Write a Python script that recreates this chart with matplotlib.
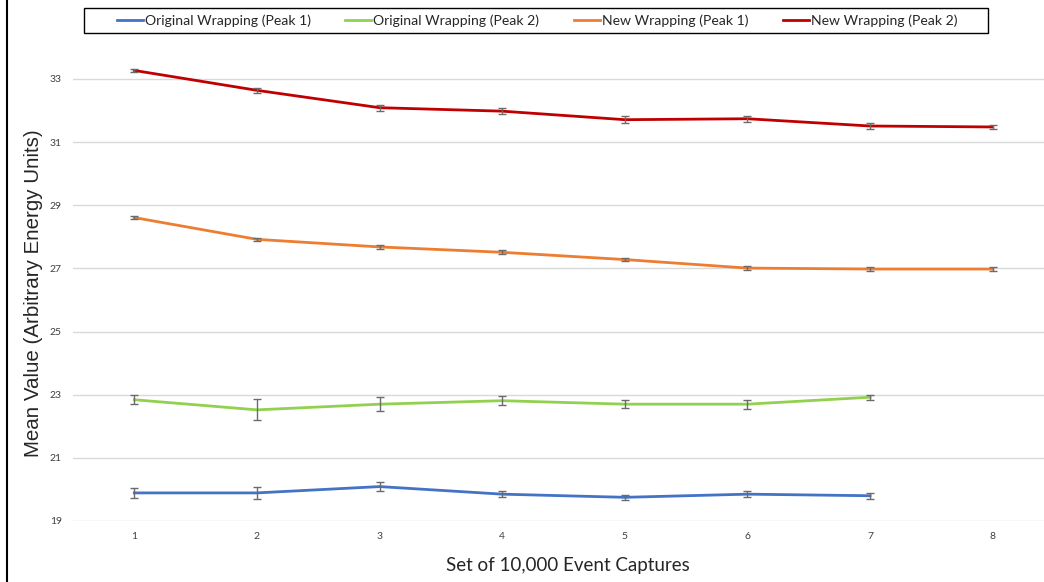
import matplotlib
matplotlib.use("Agg")
import matplotlib.pyplot as plt
from matplotlib.lines import Line2D
from matplotlib.patches import Rectangle

sets = [1, 2, 3, 4, 5, 6, 7, 8]
tick_labels = ["1", "2", "3", "4", "5", "6", "7", "8"]

orig_p1 = [19.89, 19.89, 20.09, 19.85, 19.75, 19.85, 19.80]
orig_p1_err = [0.16, 0.18, 0.15, 0.09, 0.08, 0.095, 0.095]
orig_p2 = [22.84, 22.52, 22.70, 22.81, 22.70, 22.70, 22.92]
orig_p2_err = [0.14, 0.33, 0.22, 0.15, 0.12, 0.14, 0.085]
new_p1 = [28.61, 27.92, 27.68, 27.51, 27.28, 27.01, 26.98, 26.98]
new_p1_err = [0.06, 0.05, 0.05, 0.06, 0.05, 0.07, 0.06, 0.06]
new_p2 = [33.27, 32.64, 32.09, 31.98, 31.71, 31.74, 31.51, 31.48]
new_p2_err = [0.06, 0.08, 0.09, 0.10, 0.12, 0.10, 0.08, 0.07]

labels = ["Original Wrapping (Peak 1)", "Original Wrapping (Peak 2)",
          "New Wrapping (Peak 1)", "New Wrapping (Peak 2)"]
colors = ["#4472C4", "#92D050", "#ED7D31", "#C00000"]

W, H = 1044, 582
fig = plt.figure(figsize=(W / 100, H / 100), dpi=100)
ax = fig.add_axes([73 / W, (H - 521) / H, 981 / W, (521 - 31.6) / H])

series = [(orig_p1, orig_p1_err), (orig_p2, orig_p2_err),
          (new_p1, new_p1_err), (new_p2, new_p2_err)]
for (vals, errs), c, lab in zip(series, colors, labels):
    x = sets[:len(vals)]
    ax.plot(x, vals, color=c, lw=2.0, label=lab, zorder=3)
    ax.errorbar(x, vals, yerr=errs, fmt="none", ecolor="#6b6b6b",
                elinewidth=1.0, capsize=3, capthick=1.0, zorder=4)

ax.set_xlim(0.5, 8.5)
ax.set_ylim(19, 34.5)
ax.set_yticks([19, 21, 23, 25, 27, 29, 31, 33])
ax.set_xticks(sets)
ax.set_xticklabels(tick_labels)
ax.grid(axis="y", color="#D9D9D9", lw=1.0)
ax.set_axisbelow(True)
for s in ax.spines.values():
    s.set_visible(False)
ax.tick_params(axis="both", length=0, labelsize=7.5, colors="#404040")
ax.tick_params(axis="y", pad=8)
ax.tick_params(axis="x", pad=8)
for t in ax.get_xticklabels() + ax.get_yticklabels():
    t.set_fontfamily("Lato")

fig.text(568 / W, 1 - 565 / H, "Set of 10,000 Event Captures", ha="center", va="center",
         fontsize=13.5, family="Lato", color="#262626")
fig.text(34 / W, 1 - 293 / H, "Mean Value (Arbitrary Energy Units)", ha="center", va="center",
         rotation=90, fontsize=14.8, family="Liberation Sans", color="#262626")

# legend box
fig.add_artist(Rectangle((84 / W, 1 - 33 / H), (988 - 84) / W, 25 / H, transform=fig.transFigure,
                         facecolor="white", edgecolor="black", lw=1.0, zorder=5))
handles = [Line2D([], [], color=c, lw=2.0) for c in colors]
leg = fig.legend(handles, labels, loc="center left", bbox_to_anchor=(117 / W, 1 - 20.5 / H),
                 ncol=4, frameon=False, prop={"family": "Lato", "size": 10.1},
                 handlelength=1.85, handletextpad=0.15, columnspacing=2.45,
                 borderpad=0, borderaxespad=0)
leg.set_zorder(6)
for t in leg.get_texts():
    t.set_color("#262626")

fig.add_artist(Line2D([7 / W, 7 / W], [0, 1], color="black", lw=1.5, transform=fig.transFigure))

fig.savefig("out.png", dpi=100)
